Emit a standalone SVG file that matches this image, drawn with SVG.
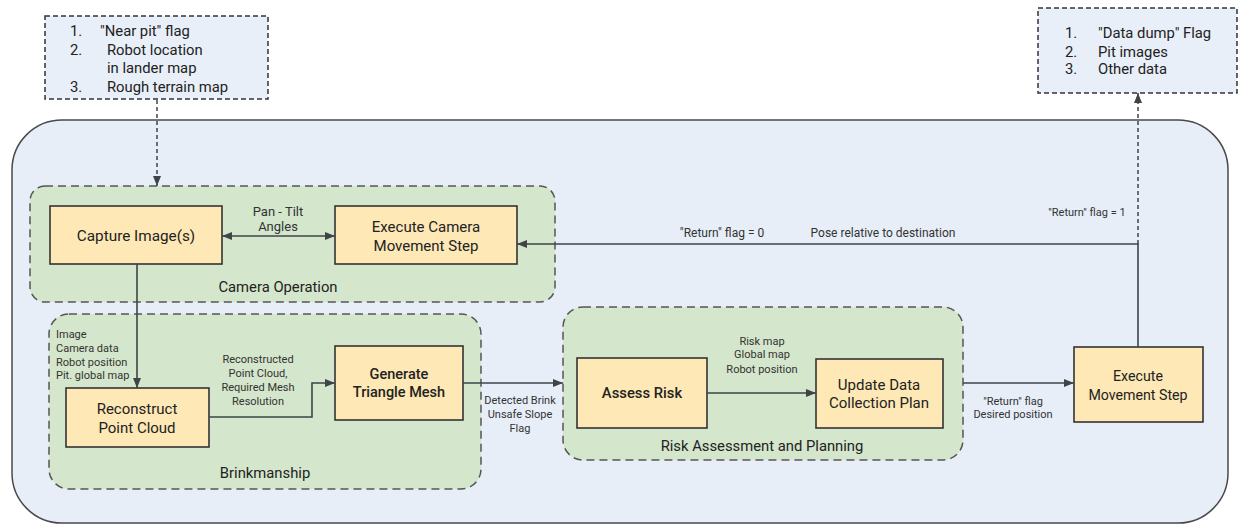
<svg xmlns="http://www.w3.org/2000/svg" width="1239" height="525" viewBox="0 0 1239 525">
<style>
  .outer { fill:#e7eef8; stroke:#4a4a4a; stroke-width:1.5 }
  .grp { fill:#d4e6cb; stroke:#555; stroke-width:1.5; stroke-dasharray:8 5 }
  .node { fill:#fde8b6; stroke:#333; stroke-width:1.6 }
  .note { fill:#e8eff8; stroke:#333; stroke-width:1.5; stroke-dasharray:5 3 }
  .t { font-family:Roboto, "Liberation Sans", sans-serif; fill:#222 }
  .nt { font-size:15px; text-anchor:middle }
  .gt { font-size:14.8px; text-anchor:middle }
  .lbl { font-size:11px; fill:#333; text-anchor:middle }
  .lbl2 { font-size:12px; fill:#333; text-anchor:middle }
  .lst { font-size:14.8px }
  .c { fill:none; stroke:#3f4448; stroke-width:1.6 }
  .cd { fill:none; stroke:#3f4448; stroke-width:1.5; stroke-dasharray:4 3 }
</style>
<defs>
  <marker id="ah" viewBox="0 0 10 8" refX="10" refY="4" markerWidth="10" markerHeight="8" markerUnits="userSpaceOnUse" orient="auto-start-reverse">
    <path d="M0,0 L10,4 L0,8 z" fill="#3f4448"/>
  </marker>
</defs>

<g id="system">
  <rect class="outer" x="12" y="120" width="1216" height="403" rx="50" ry="50"/>
</g>

<g id="input-note">
  <rect class="note" x="45" y="16" width="223" height="83"/>
  <text class="t lst" x="70" y="36">1.</text>
  <text class="t lst" x="100" y="36">"Near pit" flag</text>
  <text class="t lst" x="70" y="55">2.</text>
  <text class="t lst" x="107" y="55">Robot location</text>
  <text class="t lst" x="107" y="73">in lander map</text>
  <text class="t lst" x="70" y="92">3.</text>
  <text class="t lst" x="107" y="92">Rough terrain map</text>
</g>

<g id="output-note">
  <rect class="note" x="1038" y="8" width="199" height="85"/>
  <text class="t lst" x="1065" y="38">1.</text>
  <text class="t lst" x="1098" y="38">"Data dump" Flag</text>
  <text class="t lst" x="1065" y="57">2.</text>
  <text class="t lst" x="1098" y="57">Pit images</text>
  <text class="t lst" x="1065" y="74">3.</text>
  <text class="t lst" x="1098" y="74">Other data</text>
</g>

<g id="camera-operation">
  <rect class="grp" x="30" y="186" width="525" height="116" rx="15" ry="15"/>
  <text class="t gt" x="278" y="292">Camera Operation</text>
</g>

<g id="brinkmanship">
  <rect class="grp" x="49" y="314" width="432" height="175" rx="20" ry="20"/>
  <text class="t gt" x="265" y="478">Brinkmanship</text>
</g>

<g id="risk-assessment-planning">
  <rect class="grp" x="563" y="307" width="400" height="153" rx="20" ry="20"/>
  <text class="t gt" x="762" y="451">Risk Assessment and Planning</text>
</g>

<g id="capture-image">
  <rect class="node" x="50" y="206" width="172" height="58"/>
  <text class="t nt" x="136" y="241" style="font-size:15.3px">Capture Image(s)</text>
</g>

<g id="execute-camera-movement">
  <rect class="node" x="335" y="206" width="182" height="58"/>
  <text class="t nt" x="426" y="232">Execute Camera</text>
  <text class="t nt" x="426" y="251">Movement Step</text>
</g>

<g id="reconstruct-point-cloud">
  <rect class="node" x="66" y="388" width="143" height="59"/>
  <text class="t nt" x="137" y="414">Reconstruct</text>
  <text class="t nt" x="137" y="433">Point Cloud</text>
</g>

<g id="generate-triangle-mesh">
  <rect class="node" x="335" y="346" width="128" height="74"/>
  <text class="t nt" x="399" y="379" style="font-size:14.5px;font-weight:500">Generate</text>
  <text class="t nt" x="399" y="397" style="font-size:14.5px;font-weight:500">Triangle Mesh</text>
</g>

<g id="assess-risk">
  <rect class="node" x="577" y="358" width="130" height="70"/>
  <text class="t nt" x="642" y="398" style="font-size:14.8px;font-weight:500">Assess Risk</text>
</g>

<g id="update-data-collection-plan">
  <rect class="node" x="816" y="359" width="127" height="69"/>
  <text class="t nt" x="879" y="390">Update Data</text>
  <text class="t nt" x="879" y="408">Collection Plan</text>
</g>

<g id="execute-movement-step">
  <rect class="node" x="1074" y="347" width="129" height="75"/>
  <text class="t nt" x="1138" y="381" style="font-size:14.2px">Execute</text>
  <text class="t nt" x="1138" y="400" style="font-size:14.2px">Movement Step</text>
</g>

<g id="connectors">
  <path class="cd" d="M157,100 V186" marker-end="url(#ah)"/>
  <path class="c" d="M222,236 H335" marker-start="url(#ah)" marker-end="url(#ah)"/>
  <path class="c" d="M137,264 V388" marker-end="url(#ah)"/>
  <path class="c" d="M209,417 H312 V383 H335" marker-end="url(#ah)"/>
  <path class="c" d="M463,383 H563" marker-end="url(#ah)"/>
  <path class="c" d="M707,393 H816" marker-end="url(#ah)"/>
  <path class="c" d="M963,383 H1074" marker-end="url(#ah)"/>
  <path class="c" d="M1138,347 V244 H517" marker-end="url(#ah)"/>
  <path class="cd" d="M1138,244 V93" marker-end="url(#ah)"/>

  <text class="t lbl" x="278" y="216" style="font-size:13px">Pan - Tilt</text>
  <text class="t lbl" x="278" y="231" style="font-size:13px">Angles</text>

  <text class="t lbl" x="56" y="338" style="text-anchor:start">Image</text>
  <text class="t lbl" x="56" y="352" style="text-anchor:start">Camera data</text>
  <text class="t lbl" x="56" y="366" style="text-anchor:start">Robot position</text>
  <text class="t lbl" x="56" y="379" style="text-anchor:start">Pit. global map</text>

  <text class="t lbl" x="258" y="363">Reconstructed</text>
  <text class="t lbl" x="258" y="377">Point Cloud,</text>
  <text class="t lbl" x="258" y="391">Required Mesh</text>
  <text class="t lbl" x="258" y="405">Resolution</text>

  <text class="t lbl" x="520" y="404">Detected Brink</text>
  <text class="t lbl" x="520" y="418">Unsafe Slope</text>
  <text class="t lbl" x="520" y="432">Flag</text>

  <text class="t lbl" x="762" y="345">Risk map</text>
  <text class="t lbl" x="762" y="358">Global map</text>
  <text class="t lbl" x="762" y="373">Robot position</text>

  <text class="t lbl" x="1013" y="405">"Return" flag</text>
  <text class="t lbl" x="1013" y="418">Desired position</text>

  <text class="t lbl2" x="722" y="237">"Return" flag = 0</text>
  <text class="t lbl2" x="883" y="237">Pose relative to destination</text>
  <text class="t lbl" x="1087" y="216">"Return" flag = 1</text>
</g>
</svg>
